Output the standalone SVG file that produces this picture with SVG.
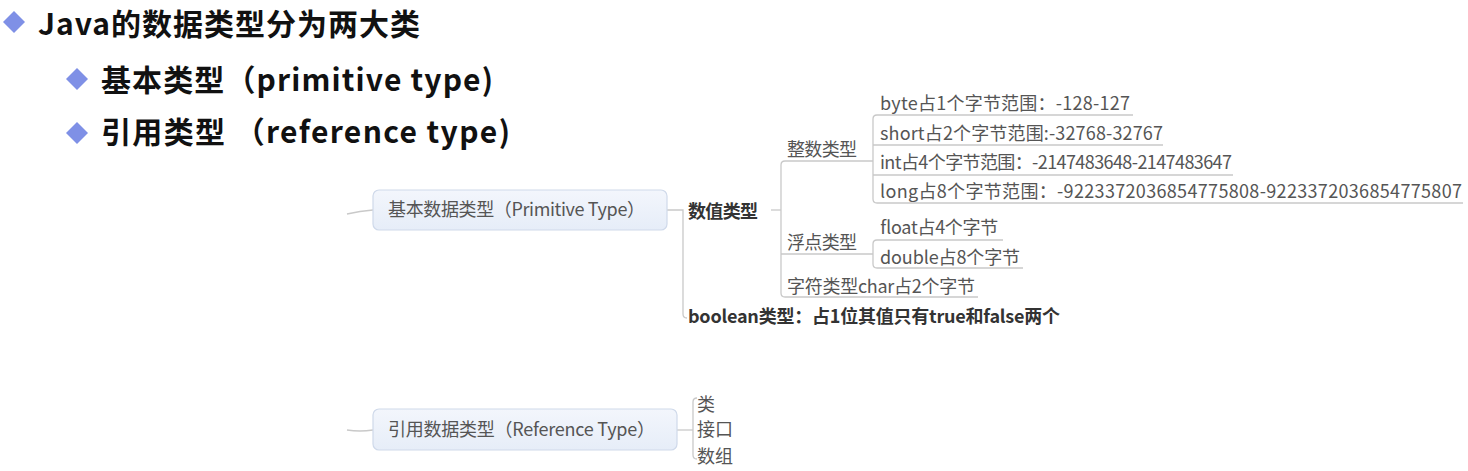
<svg xmlns="http://www.w3.org/2000/svg" width="1468" height="471" viewBox="0 0 1468 471">
<defs>
<linearGradient id="boxg" x1="0" y1="0" x2="0" y2="1">
<stop offset="0" stop-color="#f3f6fc"/>
<stop offset="1" stop-color="#e6edf8"/>
</linearGradient>
</defs>
<style>
.h{font-family:"Noto Sans CJK SC","Microsoft YaHei",sans-serif;font-weight:bold;fill:#111;font-size:30px}
.t{font-family:"Noto Sans CJK SC","Microsoft YaHei",sans-serif;font-size:18px;fill:#555}
.b{font-family:"Noto Sans CJK SC","Microsoft YaHei",sans-serif;font-size:18px;font-weight:bold;fill:#333}
.box{fill:url(#boxg);stroke:#cfd9ea;stroke-width:1.2}
.dia{fill:#7f90e6}
.ln{fill:none;stroke:#c9c9c9;stroke-width:1.3}
</style>
<rect width="1468" height="471" fill="#ffffff"/>
<g id="bullets">
<path class="dia" d="M14,11 L25,22 L14,33 L3,22 Z"/>
<text class="h" x="38" y="35" textLength="382" lengthAdjust="spacing">Java的数据类型分为两大类</text>
<path class="dia" d="M77,68 L88,79 L77,90 L66,79 Z"/>
<text class="h" x="101" y="91" textLength="392" lengthAdjust="spacing">基本类型（primitive type)</text>
<path class="dia" d="M77,122 L88,133 L77,144 L66,133 Z"/>
<text class="h" x="101" y="143" textLength="409" lengthAdjust="spacing">引用类型 （reference type)</text>
</g>
<g id="connectors">
<path class="ln" d="M347,214 Q360,211 373,210"/>
<path class="ln" d="M667,210 H683 V314 Q683,318 687,318"/>
<path class="ln" d="M771,210 H781"/>
<path class="ln" d="M781,165 Q781,161 785,161 H873"/>
<path class="ln" d="M781,165 V293 Q781,297 785,297 H978"/>
<path class="ln" d="M781,254 H873"/>
<path class="ln" d="M873,119 Q873,115 877,115 H1133"/>
<path class="ln" d="M873,119 V199 Q873,203 877,203 H1463"/>
<path class="ln" d="M873,145 H1163"/>
<path class="ln" d="M873,175 H1233"/>
<path class="ln" d="M873,244 Q873,240 877,240 H1003"/>
<path class="ln" d="M873,244 V264 Q873,268 877,268 H1023"/>
<path class="ln" d="M347,430 Q360,432 373,430"/>
<path class="ln" d="M677,430 H693"/>
<path class="ln" d="M697,398 Q693,398 693,402 V455 Q693,459 697,459"/>
</g>
<g id="primitive">
<rect class="box" x="373" y="190" width="294" height="40" rx="6"/>
<text class="t" x="388" y="216" textLength="257" lengthAdjust="spacing">基本数据类型（Primitive Type）</text>
</g>
<g id="numeric"><text class="b" x="688" y="218" textLength="70" lengthAdjust="spacing">数值类型</text></g>
<g id="integer"><text class="t" x="787" y="156" textLength="70" lengthAdjust="spacing">整数类型</text></g>
<g id="byte"><text class="t" x="880" y="110" textLength="250" lengthAdjust="spacing">byte占1个字节范围：-128-127</text></g>
<g id="short"><text class="t" x="880" y="140" textLength="283" lengthAdjust="spacing">short占2个字节范围:-32768-32767</text></g>
<g id="int"><text class="t" x="880" y="169" textLength="352" lengthAdjust="spacing">int占4个字节范围：-2147483648-2147483647</text></g>
<g id="long"><text class="t" x="880" y="198" textLength="582" lengthAdjust="spacing">long占8个字节范围：-9223372036854775808-9223372036854775807</text></g>
<g id="floating"><text class="t" x="787" y="249" textLength="70" lengthAdjust="spacing">浮点类型</text></g>
<g id="float"><text class="t" x="880" y="234" textLength="118" lengthAdjust="spacing">float占4个字节</text></g>
<g id="double"><text class="t" x="880" y="264" textLength="140" lengthAdjust="spacing">double占8个字节</text></g>
<g id="char"><text class="t" x="787" y="293" textLength="188" lengthAdjust="spacing">字符类型char占2个字节</text></g>
<g id="boolean"><text class="b" x="688" y="323" textLength="372" lengthAdjust="spacing">boolean类型：占1位其值只有true和false两个</text></g>
<g id="reference">
<rect class="box" x="373" y="409" width="304" height="41" rx="6"/>
<text class="t" x="388" y="436" textLength="267" lengthAdjust="spacing">引用数据类型（Reference Type）</text>
</g>
<g id="class"><text class="t" x="697" y="411">类</text></g>
<g id="interface"><text class="t" x="697" y="436">接口</text></g>
<g id="array"><text class="t" x="697" y="463">数组</text></g>
</svg>
